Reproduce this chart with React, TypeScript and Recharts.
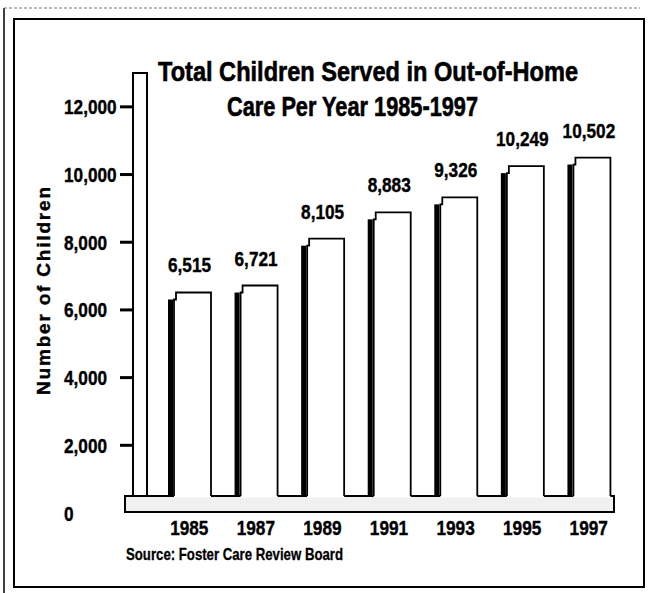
import { Bar, BarChart, LabelList, ReferenceArea, XAxis, YAxis } from "recharts";

// Total children served in out-of-home care, every other year
const YEARS = ["1985", "1987", "1989", "1991", "1993", "1995", "1997"];
const CHILDREN = [6515, 6721, 8105, 8883, 9326, 10249, 10502];
const Y_TICKS = [0, 2000, 4000, 6000, 8000, 10000, 12000];
const TITLE_LINES = ["Total Children Served in Out-of-Home", "Care Per Year 1985-1997"];
const Y_LABEL = "Number of Children";
const SOURCE = "Source: Foster Care Review Board";

const data = YEARS.map((year, i) => ({ year, children: CHILDREN[i] }));

const SANS = "'Liberation Sans', Arial, Helvetica, sans-serif";
const PLATFORM_DEPTH = 17;
const X_PAD = 23;

const fmt = (v: number) => v.toLocaleString("en-US");

// Helvetica-condensed look: bold sans squeezed horizontally, slightly heavier like the print
function NarrowText({ x, y, anchor = "middle", size = 21, dy = 0, children }: any) {
  return (
    <text
      transform={`translate(${x},${y}) scale(0.82,1)`}
      dy={dy}
      textAnchor={anchor}
      fontFamily={SANS}
      fontWeight="bold"
      fontSize={size}
      fill="#000"
      stroke="#000"
      strokeWidth={0.4}
    >
      {children}
    </text>
  );
}

// 3D-ish bar: black side face on the left, white outlined front face with a small step
function ShadowBar(props: any) {
  const { x, y, width, height } = props;
  const base = y + height - PLATFORM_DEPTH;
  const fx = x + 6;
  const fr = x + width;
  return (
    <g>
      <rect x={x} y={y + 7} width={5} height={base - y - 6} fill="#000" />
      <rect x={fx} y={y} width={fr - fx} height={base - y + 1.5} fill="#fff" />
      <path
        d={`M${fx},${base} V${y + 7} H${fx + 2} V${y} H${fr} V${base}`}
        fill="none"
        stroke="#000"
        strokeWidth={1.8}
      />
    </g>
  );
}

// floor platform + back wall behind the bars
function Stage(props: any) {
  const { x, y, width, height } = props;
  const left = x - X_PAD;
  const bottom = y + height;
  const top = bottom - PLATFORM_DEPTH;
  return (
    <g>
      <rect x={left - 8} y={top} width={width + X_PAD} height={PLATFORM_DEPTH - 1} fill="#f0f0f0" stroke="#000" strokeWidth={2} />
      <rect x={left} y={y} width={14} height={top - y} fill="#fff" stroke="#000" strokeWidth={2} />
    </g>
  );
}

function YTick(props: any) {
  const { x, y, payload } = props;
  return (
    <g>
      {payload.value !== 0 && <line x1={x} x2={x + 13} y1={y} y2={y} stroke="#000" strokeWidth={3} />}
      <NarrowText x={x - 56} y={y} dy="0.36em" anchor="start" size={21}>
        {fmt(payload.value)}
      </NarrowText>
    </g>
  );
}

function YearTick(props: any) {
  const { x, y, payload } = props;
  return (
    <NarrowText x={x} y={y + 22} size={21}>
      {payload.value}
    </NarrowText>
  );
}

function ValueLabel(props: any) {
  const { x, y, width, value } = props;
  return (
    <NarrowText x={x + width / 2} y={y - 20} size={21}>
      {fmt(Number(value))}
    </NarrowText>
  );
}

export default function App() {
  return (
    <div style={{ position: "absolute", left: 0, top: 0, width: 648, height: 593, background: "#fff" }}>
      <BarChart width={648} height={593} data={data} margin={{ top: 73, right: 26, bottom: 50, left: 0 }}>
        <ReferenceArea y1={0} y2={13000} shape={<Stage />} ifOverflow="visible" />
        <XAxis
          dataKey="year"
          height={30}
          padding={{ left: X_PAD, right: 0 }}
          axisLine={false}
          tickLine={false}
          tickSize={0}
          tickMargin={0}
          tick={<YearTick />}
          interval={0}
        />
        <YAxis
          type="number"
          domain={[0, 13000]}
          ticks={Y_TICKS}
          width={133}
          axisLine={false}
          tickLine={false}
          tickSize={13}
          tickMargin={0}
          tick={<YTick />}
          interval={0}
        />
        <Bar dataKey="children" barSize={43} shape={<ShadowBar />} isAnimationActive={false}>
          <LabelList dataKey="children" content={<ValueLabel />} />
        </Bar>
      </BarChart>

      <svg width={648} height={593} style={{ position: "absolute", left: 0, top: 0, pointerEvents: "none" }}>
        {/* scanned double frame */}
        <line x1={4} y1={8} x2={4} y2={593} stroke="#000" strokeWidth={1.5} />
        <line x1={4} y1={8} x2={640} y2={8} stroke="#777" strokeWidth={1} strokeDasharray="3 2" />
        <rect x={14} y={19} width={630} height={568} fill="none" stroke="#000" strokeWidth={2} />

        <text x={158} y={81} textLength={420} lengthAdjust="spacingAndGlyphs" fontFamily={SANS} fontWeight="bold" fontSize={28} fill="#000" stroke="#000" strokeWidth={0.6}>
          {TITLE_LINES[0]}
        </text>
        <text x={227} y={116} textLength={251} lengthAdjust="spacingAndGlyphs" fontFamily={SANS} fontWeight="bold" fontSize={28} fill="#000" stroke="#000" strokeWidth={0.6}>
          {TITLE_LINES[1]}
        </text>

        <text
          transform="translate(50,291) rotate(-90)"
          x={0}
          y={0}
          textAnchor="middle"
          textLength={208}
          fontFamily={SANS}
          fontWeight="bold"
          fontSize={19}
          fill="#000"
          stroke="#000"
          strokeWidth={0.4}
        >
          {Y_LABEL}
        </text>

        <text x={126} y={560} textLength={217} lengthAdjust="spacingAndGlyphs" fontFamily={SANS} fontWeight="bold" fontSize={17} fill="#000" stroke="#000" strokeWidth={0.3}>
          {SOURCE}
        </text>
      </svg>
    </div>
  );
}
